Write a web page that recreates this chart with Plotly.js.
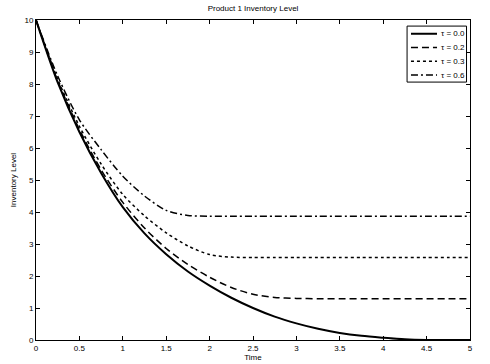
<!DOCTYPE html>
<html>
<head>
<meta charset="utf-8">
<script src="https://cdn.plot.ly/plotly-3.0.1.min.js"></script>
<style>html,body{margin:0;padding:0;background:#fff;}#chart{width:490px;height:364px;}</style>
</head>
<body>
<div id="chart"></div>
<script>
var time = [0,0.25,0.5,0.75,1,1.25,1.5,1.75,2,2.25,2.5,2.75,3,3.25,3.5,3.75,4,4.25,4.5,4.75,5];
var tau00 = [10,8.05,6.5,5.22,4.15,3.33,2.68,2.14,1.7,1.32,1.0,0.73,0.52,0.35,0.22,0.13,0.07,0.02,0,0,0];
var tau02 = [10,8.1,6.58,5.32,4.3,3.5,2.86,2.36,1.96,1.64,1.43,1.33,1.3,1.29,1.29,1.29,1.29,1.29,1.29,1.29,1.29];
var tau03 = [10,8.15,6.68,5.5,4.55,3.88,3.35,2.94,2.67,2.59,2.58,2.58,2.58,2.58,2.58,2.58,2.58,2.58,2.58,2.58,2.58];
var tau06 = [10,8.25,6.88,5.95,5.12,4.5,4.05,3.89,3.87,3.87,3.87,3.87,3.87,3.87,3.87,3.87,3.87,3.87,3.87,3.87,3.87];
var seriesNames = ["\u03c4 = 0.0","\u03c4 = 0.2","\u03c4 = 0.3","\u03c4 = 0.6"];
var xTicks = [0,0.5,1,1.5,2,2.5,3,3.5,4,4.5,5];
var yTicks = [0,1,2,3,4,5,6,7,8,9,10];

var dashes = ["solid","7px,4px","dot","7px,3px,2px,3px"];
var widths = [2,1.5,1.5,1.5];
var ys = [tau00,tau02,tau03,tau06];
var traces = ys.map(function(y,i){
  return {x: time, y: y, name: seriesNames[i], type: "scatter", mode: "lines", showlegend: false,
    line: {color: "#000", width: widths[i], dash: dashes[i], shape: "spline", smoothing: 0.8}};
});
var font = {family: "Liberation Sans, Arial, sans-serif", size: 8, color: "#000"};

// compact legend box drawn in paper coordinates
var lgX0 = 0.855, lgX1 = 0.992, lgY0 = 0.806, lgY1 = 0.981;
var rowY = [0.957, 0.914, 0.871, 0.828];
var shapes = [{type: "rect", xref: "paper", yref: "paper", x0: lgX0, x1: lgX1, y0: lgY0, y1: lgY1,
  line: {color: "#000", width: 1}, fillcolor: "#fff", layer: "above"}];
var annotations = [];
seriesNames.forEach(function(n,i){
  shapes.push({type: "line", xref: "paper", yref: "paper", x0: 0.864, x1: 0.924, y0: rowY[i], y1: rowY[i],
    line: {color: "#000", width: widths[i], dash: dashes[i]}, layer: "above"});
  annotations.push({xref: "paper", yref: "paper", x: 0.928, y: rowY[i], xanchor: "left", yanchor: "middle",
    text: n, showarrow: false, font: font});
});

var axisBase = {showgrid: false, zeroline: false, showline: true, linecolor: "#000", linewidth: 1,
  mirror: "ticks", ticks: "inside", ticklen: 4, tickcolor: "#000", tickfont: font};
var layout = {
  width: 490, height: 364,
  margin: {l: 36, r: 20, t: 20, b: 24},
  paper_bgcolor: "#fff", plot_bgcolor: "#fff",
  font: font,
  title: {text: "Product 1 Inventory Level", font: font, x: 0.5, xref: "paper", xanchor: "center", y: 0.978, yanchor: "middle"},
  xaxis: Object.assign({}, axisBase, {range: [0,5], tickvals: xTicks, ticktext: xTicks.map(String),
    title: {text: "Time", font: font, standoff: 2}}),
  yaxis: Object.assign({}, axisBase, {range: [0,10], tickvals: yTicks, ticktext: yTicks.map(String),
    title: {text: "Inventory Level", font: font, standoff: 6}}),
  showlegend: false,
  shapes: shapes,
  annotations: annotations
};
Plotly.newPlot("chart", traces, layout, {displayModeBar: false, staticPlot: true});
</script>
</body>
</html>
